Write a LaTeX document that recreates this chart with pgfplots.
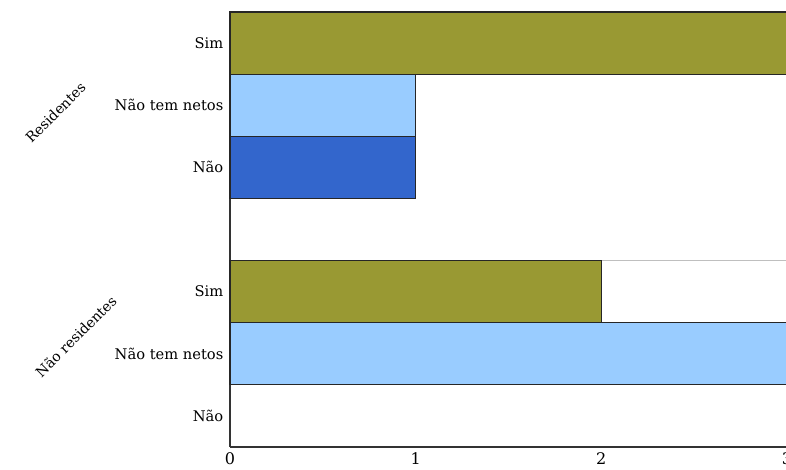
\documentclass[border=0pt]{standalone}
\usepackage{pgfplots}
\pgfplotsset{compat=1.18}
\usepackage{fontspec}
\setmainfont{DejaVu Serif}
\definecolor{olive1}{HTML}{999933}
\definecolor{lblue}{HTML}{99CCFF}
\definecolor{dblue}{HTML}{3366CC}
\begin{document}
\begin{tikzpicture}
\useasboundingbox (0,0) rectangle (589.5pt,352.5pt);
\begin{axis}[
  at={(172.5pt,17.25pt)}, anchor=south west,
  scale only axis, width=417.75pt, height=326.25pt,
  xmin=0, xmax=3, ymin=0, ymax=7,
  axis x line=bottom, axis y line=left,
  axis line style={-, line width=1pt, black!80},
  xtick={0,1,2,3},
  ytick={0.5,1.5,2.5,4.5,5.5,6.5},
  yticklabels={N\~ao, N\~ao tem netos, Sim, N\~ao, N\~ao tem netos, Sim},
  major tick length=0pt,
  yticklabel style={font=\fontsize{11}{13}\selectfont, xshift=-1.5pt},
  xticklabel style={font=\fontsize{12}{14}\selectfont, yshift=-1pt},
  /pgf/number format/assume math mode=true,
  xbar, bar width=1, bar shift=0pt,
  extra y ticks={3}, extra y tick labels={},
  extra y tick style={grid=major, major grid style={black!25, line width=0.6pt}},
  clip=false,
]
\addplot[fill=olive1, draw=black!85, line width=0.8pt] coordinates {(3,6.5) (2,2.5)};
\addplot[fill=lblue, draw=black!85, line width=0.8pt] coordinates {(1,5.5) (3,1.5)};
\addplot[fill=dblue, draw=black!85, line width=0.8pt] coordinates {(1,4.5)};
\node[rotate=45, font=\fontsize{10.5}{12}\selectfont] at (axis cs:-0.94,5.38) {Residentes};
\node[rotate=45, font=\fontsize{10.5}{12}\selectfont] at (axis cs:-0.83,1.78) {N\~ao residentes};
\end{axis}
\end{tikzpicture}
\end{document}
